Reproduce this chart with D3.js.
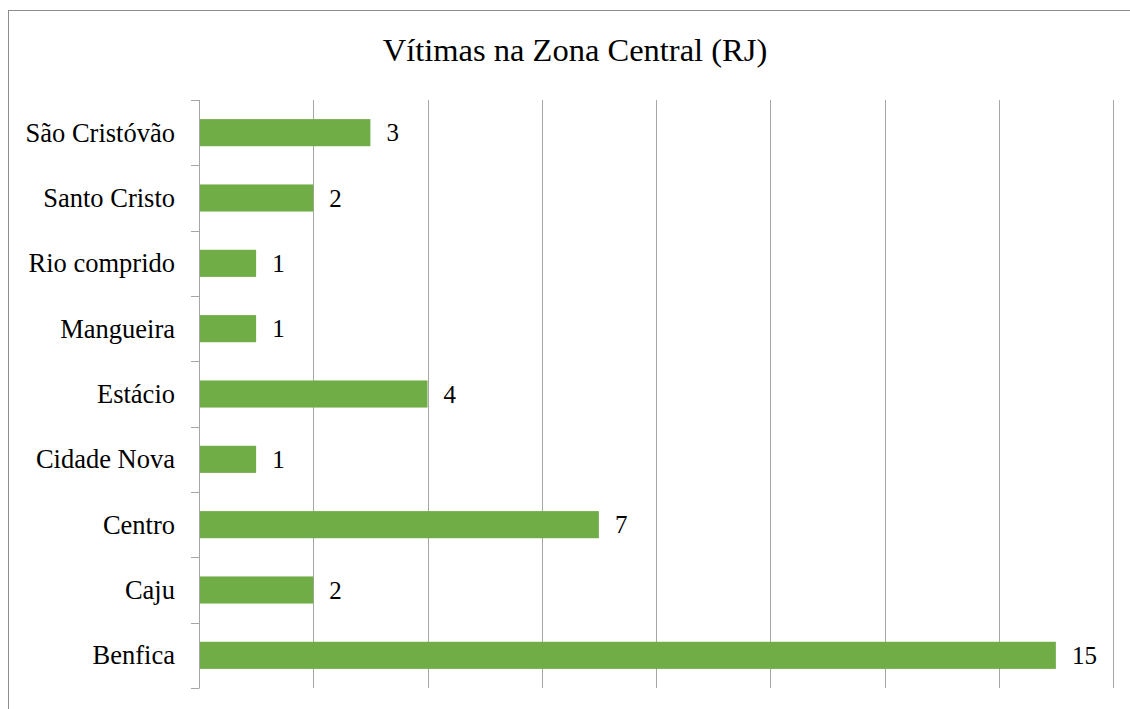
<!DOCTYPE html>
<html><head><meta charset="utf-8">
<script src="https://cdn.jsdelivr.net/npm/d3@7"></script>
<style>html,body{margin:0;padding:0;background:#fff;overflow:hidden}</style>
</head><body>
<svg id="c" width="1130" height="709"></svg>
<script>
const categories = ["São Cristóvão","Santo Cristo","Rio comprido","Mangueira","Estácio","Cidade Nova","Centro","Caju","Benfica"];
const values = [3,2,1,1,4,1,7,2,15];
const xTicks = [0,2,4,6,8,10,12,14,16];
const title = "Vítimas na Zona Central (RJ)";

const svg = d3.select("#c");
const font = "'Liberation Serif','Times New Roman',serif";
svg.append("rect").attr("x",8.5).attr("y",10.5).attr("width",1140).attr("height",720)
  .attr("fill","#fff").attr("stroke","#8c8c8c").attr("stroke-width",1);

const m = {left:199, right:1113, top:100, bottom:688};
const x = d3.scaleLinear().domain([0,16]).range([m.left, m.right]);
const y = d3.scaleBand().domain(categories).range([m.top, m.bottom]).paddingInner(0.585).paddingOuter(0.2925);
const yb = d3.scaleBand().domain(categories).range([m.top, m.bottom]);

svg.append("g").selectAll("line").data(xTicks.slice(1)).join("line")
  .attr("x1",d=>Math.round(x(d))+0.5).attr("x2",d=>Math.round(x(d))+0.5)
  .attr("y1",m.top).attr("y2",m.bottom).attr("stroke","#a6a6a6").attr("stroke-width",1);

svg.append("g").selectAll("rect").data(categories).join("rect")
  .attr("x",x(0)).attr("y",d=>y(d)).attr("height",y.bandwidth())
  .attr("width",(d,i)=>x(values[i])-x(0)).attr("fill","#70ad47");

// y axis
const ax = svg.append("g");
ax.append("line").attr("x1",m.left+0.5).attr("x2",m.left+0.5).attr("y1",m.top).attr("y2",m.bottom).attr("stroke","#a6a6a6");
const bounds = categories.map(c=>yb(c)).concat([m.bottom]);
ax.selectAll("line.t").data(bounds).join("line").attr("class","t")
  .attr("x1",m.left-8).attr("x2",m.left+0.5).attr("y1",d=>Math.round(d)+0.5).attr("y2",d=>Math.round(d)+0.5)
  .attr("stroke","#a6a6a6");
ax.selectAll("text").data(categories).join("text")
  .attr("x",m.left-24).attr("y",d=>yb(d)+yb.bandwidth()/2).attr("dy","0.34em")
  .attr("text-anchor","end").attr("font-family",font).attr("font-size",26.5).attr("fill","#000").text(d=>d);

svg.append("g").selectAll("text").data(categories).join("text")
  .attr("x",(d,i)=>x(values[i])+16).attr("y",d=>y(d)+y.bandwidth()/2).attr("dy","0.34em")
  .attr("font-family",font).attr("font-size",25).attr("fill","#000").text((d,i)=>values[i]);

svg.append("text").attr("x",575).attr("y",60.5).attr("text-anchor","middle")
  .attr("font-family",font).attr("font-size",32.5).attr("fill","#000").text(title);
</script>
</body></html>
